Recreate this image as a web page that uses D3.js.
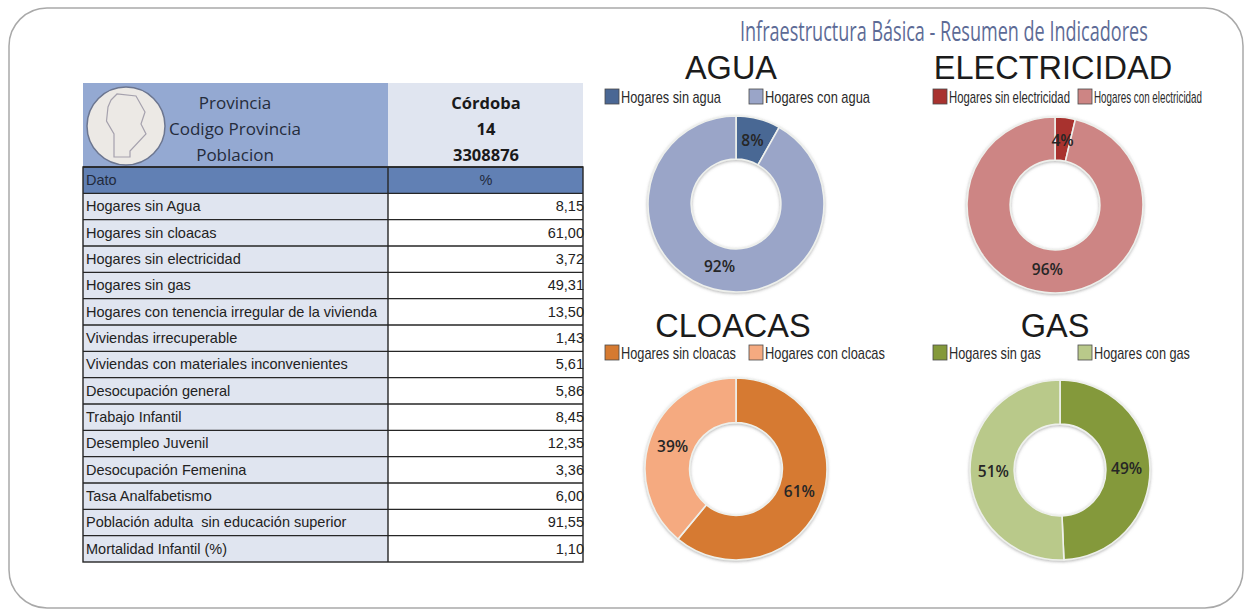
<!DOCTYPE html>
<html>
<head>
<meta charset="utf-8">
<script src="https://d3js.org/d3.v7.min.js"></script>
<style>
  html, body { margin: 0; padding: 0; background: #fff; }
  svg { display: block; }
  text { font-family: "Liberation Sans", Arial, sans-serif; }
</style>
</head>
<body>
<svg class="svg_parent"></svg>
<script>
// table data
const headerLabels = ['Provincia', 'Codigo Provincia', 'Poblacion']
const headerValues = ['Córdoba', '14', '3308876']
const rowLabels = ['Hogares sin Agua', 'Hogares sin cloacas', 'Hogares sin electricidad', 'Hogares sin gas',
  'Hogares con tenencia irregular de la vivienda', 'Viviendas irrecuperable', 'Viviendas con materiales inconvenientes',
  'Desocupación general', 'Trabajo Infantil', 'Desempleo Juvenil', 'Desocupación Femenina', 'Tasa Analfabetismo',
  'Población adulta  sin educación superior', 'Mortalidad Infantil (%)']
const rowValues = [8.15, 61.00, 3.72, 49.31, 13.50, 1.43, 5.61, 5.86, 8.45, 12.35, 3.36, 6.00, 91.55, 1.10]

// donut data
const aguaValues = [8.15, 91.85]
const electricidadValues = [3.72, 96.28]
const cloacasValues = [61.00, 39.00]
const gasValues = [49.31, 50.69]
const aguaLegend = ['Hogares sin agua', 'Hogares con agua']
const electricidadLegend = ['Hogares sin electricidad', 'Hogares con electricidad']
const cloacasLegend = ['Hogares sin cloacas', 'Hogares con cloacas']
const gasLegend = ['Hogares sin gas', 'Hogares con gas']

const width = 1246, height = 614

const svg = d3.select('.svg_parent').attr('width', width).attr('height', height)

// squeeze a text horizontally so it takes w pixels (condensed look of the original fonts)
function squeeze(node, x, y, w){
  const sx = w / node.getComputedTextLength()
  d3.select(node).attr('transform', `translate(${x},${y}) scale(${sx},1)`)
}

// soft shadow under the donuts
const filter = svg.append('defs').append('filter').attr('id', 'soft')
  .attr('x', '-10%').attr('y', '-10%').attr('width', '120%').attr('height', '120%')
filter.append('feDropShadow').attr('dx', 0).attr('dy', 1).attr('stdDeviation', 1.5)
  .attr('flood-color', '#777').attr('flood-opacity', 0.55)

// outer frame
svg.append('rect')
  .attr('x', 9).attr('y', 8).attr('width', 1234).attr('height', 600)
  .attr('rx', 38).attr('ry', 38)
  .attr('fill', '#fff').attr('stroke', '#a9a9a9').attr('stroke-width', 1.5)

// chart title
svg.append('text')
  .style('font-family', '"Open Sans"').style('font-size', '27px')
  .attr('fill', '#5d6b96')
  .text('Infraestructura Básica - Resumen de Indicadores')
  .each(function(){ squeeze(this, 740, 41, 408) })

//------ table ------
const tableLeft = 83, tableSplit = 388, tableRight = 583

const y_header = d3.scaleBand().domain(headerLabels).range([90, 168])
const y_rows = d3.scaleBand().domain(['Dato', ...rowLabels]).range([167, 562])

svg.append('rect').attr('x', tableLeft).attr('y', 83).attr('width', tableSplit - tableLeft).attr('height', 84).attr('fill', '#94a9d2')
svg.append('rect').attr('x', tableSplit).attr('y', 83).attr('width', tableRight - tableSplit).attr('height', 84).attr('fill', '#e0e5f0')

svg.selectAll('.header_label').data(headerLabels).join('text')
  .attr('class', 'header_label')
  .attr('x', 235)
  .attr('y', d => y_header(d) + 19)
  .attr('text-anchor', 'middle')
  .style('font-family', '"Open Sans"').style('font-size', '17px')
  .attr('fill', '#252c3c')
  .text(d => d)

svg.selectAll('.header_value').data(headerValues).join('text')
  .attr('class', 'header_value')
  .attr('x', 486)
  .attr('y', (d, i) => y_header(headerLabels[i]) + 19)
  .attr('text-anchor', 'middle')
  .style('font-family', '"Open Sans"').style('font-size', '16.5px').style('font-weight', 700)
  .attr('fill', '#1a1a1a')
  .text(d => d)

// map badge
const badge = svg.append('g').attr('transform', 'translate(126,126)')
badge.append('circle').attr('r', 39).attr('fill', '#ece9e5').attr('stroke', '#6c7690').attr('stroke-width', 1.5)
badge.append('path')
  .attr('d', 'M-15,-26 L-9,-32 L10,-30 L19,-14 L15,-2 L20,8 L4,25 L4,31 L-12,31 L-12,8 L-19.5,-5 L-18,-19 Z')
  .attr('fill', 'none').attr('stroke', '#a5a1ad').attr('stroke-width', 1.2)

// title row
svg.append('rect').attr('x', tableLeft).attr('y', y_rows('Dato')).attr('width', tableRight - tableLeft).attr('height', y_rows.bandwidth()).attr('fill', '#6180b4')
svg.append('text').attr('x', 86).attr('y', y_rows('Dato') + 18).attr('fill', '#222a3c').style('font-size', '14.5px').text('Dato')
svg.append('text').attr('x', 486).attr('y', y_rows('Dato') + 18).attr('text-anchor', 'middle').attr('fill', '#222a3c').style('font-size', '14.5px').text('%')

// data rows
svg.selectAll('.row_cell').data(rowLabels).join('rect')
  .attr('class', 'row_cell')
  .attr('x', tableLeft)
  .attr('y', d => y_rows(d))
  .attr('width', tableSplit - tableLeft)
  .attr('height', y_rows.bandwidth())
  .attr('fill', '#e0e5f0')

svg.selectAll('.row_label').data(rowLabels).join('text')
  .attr('class', 'row_label')
  .attr('x', 86)
  .attr('y', d => y_rows(d) + 18)
  .style('font-size', '14.5px').style('white-space', 'pre')
  .attr('fill', '#222')
  .text(d => d)

svg.selectAll('.row_value').data(rowValues).join('text')
  .attr('class', 'row_value')
  .attr('x', 584)
  .attr('y', (d, i) => y_rows(rowLabels[i]) + 18)
  .attr('text-anchor', 'end')
  .style('font-size', '14.5px')
  .attr('fill', '#222')
  .text(d => d3.format('.2f')(d).replace('.', ','))

// grid lines
const gridLine = '#262626'
svg.selectAll('.row_line').data(['Dato', ...rowLabels]).join('line')
  .attr('class', 'row_line')
  .attr('x1', tableLeft).attr('x2', tableRight)
  .attr('y1', d => y_rows(d)).attr('y2', d => y_rows(d))
  .attr('stroke', gridLine).attr('stroke-width', 1.4)
svg.append('rect')
  .attr('x', tableLeft).attr('y', 167).attr('width', tableRight - tableLeft).attr('height', 395)
  .attr('fill', 'none').attr('stroke', gridLine).attr('stroke-width', 1.4)
svg.append('line')
  .attr('x1', tableSplit).attr('x2', tableSplit).attr('y1', 167).attr('y2', 562)
  .attr('stroke', gridLine).attr('stroke-width', 1.4)

//------ donuts ------
const pie = d3.pie().sort(null).startAngle(0).endAngle(2 * Math.PI)

function renderDonut(panel){
  const arcGen = d3.arc().innerRadius(panel.radius * 0.51).outerRadius(panel.radius)
  const labelArc = d3.arc().innerRadius(panel.radius * 0.74).outerRadius(panel.radius * 0.74)

  svg.append('text')
    .attr('x', panel.titleX).attr('y', panel.titleY)
    .attr('text-anchor', 'middle')
    .style('font-size', '32.5px')
    .attr('fill', '#1b1b1b')
    .text(panel.title)

  const legend = svg.append('g').selectAll('g').data(panel.legend).join('g')
  legend.append('rect')
    .attr('x', (d, i) => panel.swatchX[i])
    .attr('y', panel.legendY)
    .attr('width', 14).attr('height', 15)
    .attr('fill', (d, i) => panel.colors[i])
    .attr('stroke', '#4a4a4a').attr('stroke-width', 0.8)
  legend.append('text')
    .style('font-size', '16px')
    .attr('fill', '#2a2a2a')
    .text(d => d)
    .each(function(d, i){ squeeze(this, panel.swatchX[i] + 16, panel.legendY + 14, panel.legendW[i]) })

  const g = svg.append('g').attr('transform', `translate(${panel.cx},${panel.cy})`)
  const slices = pie(panel.values)
  g.append('g').attr('filter', 'url(#soft)')
    .selectAll('path').data(slices).join('path')
    .attr('d', arcGen)
    .attr('fill', (d, i) => panel.colors[i])
    .attr('stroke', '#eef0ec').attr('stroke-width', 1.6)

  g.selectAll('text').data(slices).join('text')
    .attr('transform', d => `translate(${labelArc.centroid(d)})`)
    .attr('text-anchor', 'middle')
    .attr('dy', '0.35em')
    .style('font-family', '"Open Sans"').style('font-size', '15.5px').style('font-weight', 600)
    .attr('fill', '#262626')
    .text(d => d3.format('.0f')(d.value) + '%')
}

renderDonut({ title: 'AGUA', titleX: 731, titleY: 79, values: aguaValues, legend: aguaLegend,
  colors: ['#4a6794', '#9aa5c8'], swatchX: [605, 749], legendW: [100, 105], legendY: 89, cx: 736, cy: 204, radius: 88 })
renderDonut({ title: 'ELECTRICIDAD', titleX: 1053, titleY: 79, values: electricidadValues, legend: electricidadLegend,
  colors: ['#a8322f', '#cd8584'], swatchX: [933, 1078], legendW: [121, 108], legendY: 89, cx: 1055, cy: 205, radius: 88 })
renderDonut({ title: 'CLOACAS', titleX: 733, titleY: 337, values: cloacasValues, legend: cloacasLegend,
  colors: ['#d67a30', '#f5aa80'], swatchX: [605, 749], legendW: [115, 120], legendY: 345, cx: 736, cy: 469, radius: 91 })
renderDonut({ title: 'GAS', titleX: 1055, titleY: 337, values: gasValues, legend: gasLegend,
  colors: ['#84993a', '#b9c98a'], swatchX: [933, 1078], legendW: [92, 96], legendY: 345, cx: 1060, cy: 470, radius: 90 })
</script>
</body>
</html>
